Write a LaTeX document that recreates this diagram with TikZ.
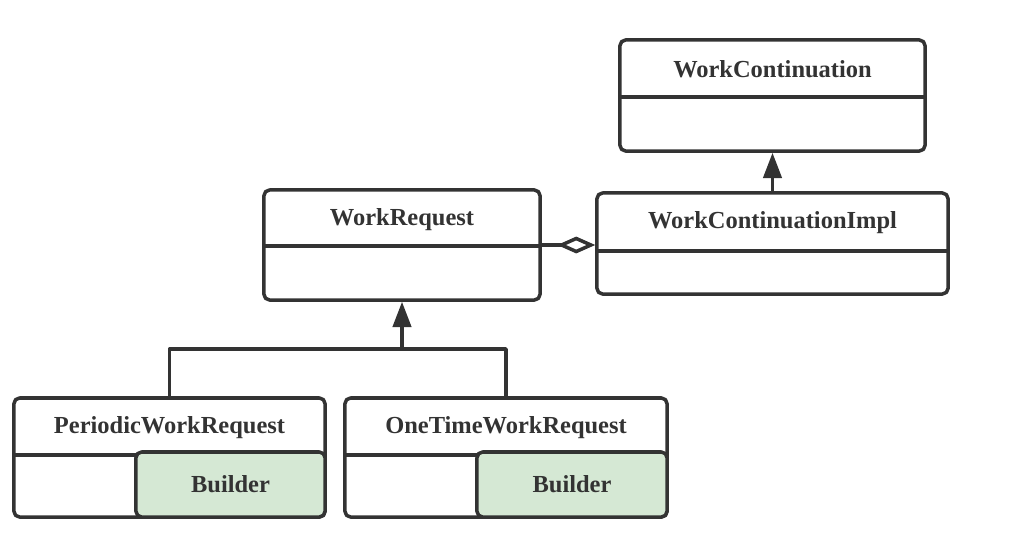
\documentclass[tikz,border=0pt]{standalone}
\usepackage{fontspec}
\setmainfont{Liberation Serif}
\usetikzlibrary{arrows.meta}
\definecolor{ink}{HTML}{333333}
\definecolor{buildergreen}{HTML}{D5E8D4}
\begin{document}
\begin{tikzpicture}[x=0.025cm,y=-0.025cm,line join=round,line cap=round,
    font=\fontsize{17.4}{20}\selectfont\bfseries,
    classbox/.style={draw=ink,line width=2.5pt,rounded corners=4pt,inner sep=0pt,fill=white},
    builderbox/.style={classbox,fill=buildergreen,minimum width=4.75cm,minimum height=1.625cm,text=ink},
    classname/.style={text=ink,inner sep=0pt,anchor=base},
    divider/.style={draw=ink,line width=2.5pt,line cap=butt},
    inherit/.style={draw=ink,line width=2.5pt,-{Triangle[length=18pt,width=13pt]}},
    aggregate/.style={draw=ink,line width=2.5pt,-{Diamond[open,fill=white,length=27pt,width=12pt]}}]
    \useasboundingbox (0,0) rectangle (1016,546);
    % classes
    \node[classbox,minimum width=7.625cm,minimum height=2.775cm] (cont) at (772.5,95.5) {};
    \node[classname] (contname) at (772.5,77) {WorkContinuation};
    \draw[divider] (620,97)--(925,97);
    \node[classbox,minimum width=8.775cm,minimum height=2.525cm] (impl) at (772.5,243.5) {};
    \node[classname] (implname) at (772.5,228.5) {WorkContinuationImpl};
    \draw[divider] (597,251)--(948,251);
    \node[classbox,minimum width=6.9cm,minimum height=2.75cm] (req) at (402,245) {};
    \node[classname] (reqname) at (402,225.5) {WorkRequest};
    \draw[divider] (264,246)--(540,246);
    \node[classbox,minimum width=7.775cm,minimum height=2.975cm] (per) at (169.5,457.5) {};
    \node[classname] (pername) at (169.5,433.5) {PeriodicWorkRequest};
    \draw[divider] (14,455)--(325,455);
    \node[builderbox,minimum width=4.725cm] (perbuilder) at (230.5,484.5) {Builder};
    \node[classbox,minimum width=8.05cm,minimum height=2.975cm] (one) at (506,457.5) {};
    \node[classname] (onename) at (506,433.5) {OneTimeWorkRequest};
    \draw[divider] (345,455)--(667,455);
    \node[builderbox] (onebuilder) at (572,484.5) {Builder};
    % relations
    \draw[inherit] (impl.north)--(cont.south);
    \draw[aggregate] (req.east)--(req.east -| impl.west);
    \coordinate (joint) at (402,349);
    \draw[draw=ink,line width=2.5pt] (per.north) |- (joint) -| (one.north);
    \draw[inherit] (joint)--(req.south);
\end{tikzpicture}
\end{document}
